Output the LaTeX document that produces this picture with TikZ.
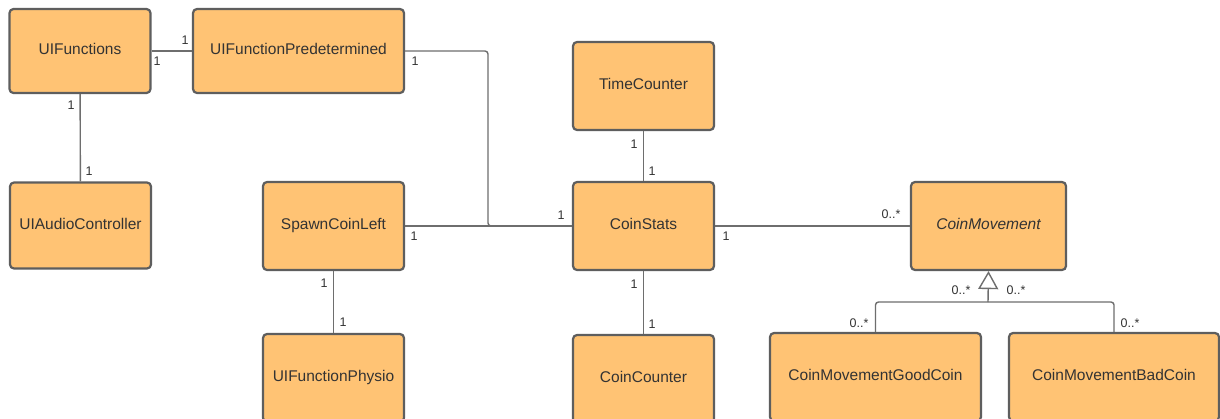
\documentclass[tikz,border=0pt]{standalone}
\usepackage{fontspec}
\setmainfont{Liberation Sans}
\usetikzlibrary{arrows.meta}
\definecolor{boxfill}{HTML}{FFC374}
\definecolor{boxline}{HTML}{5E5E5E}
\definecolor{wire}{HTML}{6E6E6E}
\definecolor{ink}{HTML}{333333}
\tikzset{
  cls/.style={draw=boxline, fill=boxfill, line width=2.2pt, rounded corners=4pt,
    minimum width=141pt, minimum height=86pt, inner sep=0pt,
    text height=11.5pt, text depth=4pt,
    font=\fontsize{15.5}{18}\selectfont, text=ink},
  wideCls/.style={cls, minimum width=211pt},
  conn/.style={draw=wire, line width=1.4pt},
  mult/.style={font=\fontsize{12.5}{14}\selectfont, text=ink, inner sep=0pt}
}
\begin{document}
\begin{tikzpicture}[x=1pt, y=-1pt]
\useasboundingbox (0,0) rectangle (1220,418);
\fill[white] (0,0) rectangle (1220,418);

% classes
\node[cls, minimum height=84pt] (uif)  at (80,51)   {UIFunctions};
\node[wideCls, minimum height=84pt] (uifp) at (298.5,51) {UIFunctionPredetermined};
\node[cls] (uiac) at (80.5,225.5) {UIAudioController};
\node[cls, minimum height=88pt] (scl)  at (333.5,226) {SpawnCoinLeft};
\node[cls, minimum height=88pt] (uifph) at (333.5,378) {UIFunctionPhysio};
\node[cls, minimum height=88pt] (tc)   at (643.5,86)  {TimeCounter};
\node[cls, minimum height=88pt] (cs)   at (643.5,226) {CoinStats};
\node[cls, minimum height=88pt] (cc)   at (643.5,379) {CoinCounter};
\node[cls, minimum width=155pt, minimum height=88pt] (cm) at (988.5,226) {\itshape CoinMovement};
\node[wideCls, minimum height=88pt] (good) at (875.5,377) {CoinMovementGoodCoin};
\node[wideCls, minimum width=210pt, minimum height=88pt] (bad) at (1114,377) {CoinMovementBadCoin};

% associations
\coordinate (bend) at (488,0);
\draw[conn] (uif) -- (uifp);
\draw[conn] (uif) -- (uiac);
\draw[conn, rounded corners=3pt] (uifp.east) -| (bend |- cs.west) -- (cs.west);
\draw[conn] (scl) -- (cs);
\draw[conn] (scl) -- (uifph);
\draw[conn] (tc) -- (cs);
\draw[conn] (cs) -- (cc);
\draw[conn] (cs) -- (cm);

% generalization
\coordinate (gen) at (988,302);
\draw[conn, rounded corners=3pt] (good.north) |- (gen) -| (bad.north);
\draw[conn, -{Triangle[open, length=18pt, width=20pt, fill=white]}] (gen) -- (cm.south);

% multiplicities
\node[mult] at (185,40) {1};
\node[mult] at (157,61) {1};
\node[mult] at (71,105) {1};
\node[mult] at (89,171) {1};
\node[mult] at (415,61) {1};
\node[mult] at (561,215) {1};
\node[mult] at (414,236) {1};
\node[mult] at (634,144) {1};
\node[mult] at (652,171) {1};
\node[mult] at (634,284) {1};
\node[mult] at (652,324) {1};
\node[mult] at (324,283) {1};
\node[mult] at (343,322) {1};
\node[mult] at (726,236) {1};
\node[mult] at (891,214) {0..*};
\node[mult] at (961,290) {0..*};
\node[mult] at (1016,290) {0..*};
\node[mult] at (859,323) {0..*};
\node[mult] at (1130,323) {0..*};
\end{tikzpicture}
\end{document}
